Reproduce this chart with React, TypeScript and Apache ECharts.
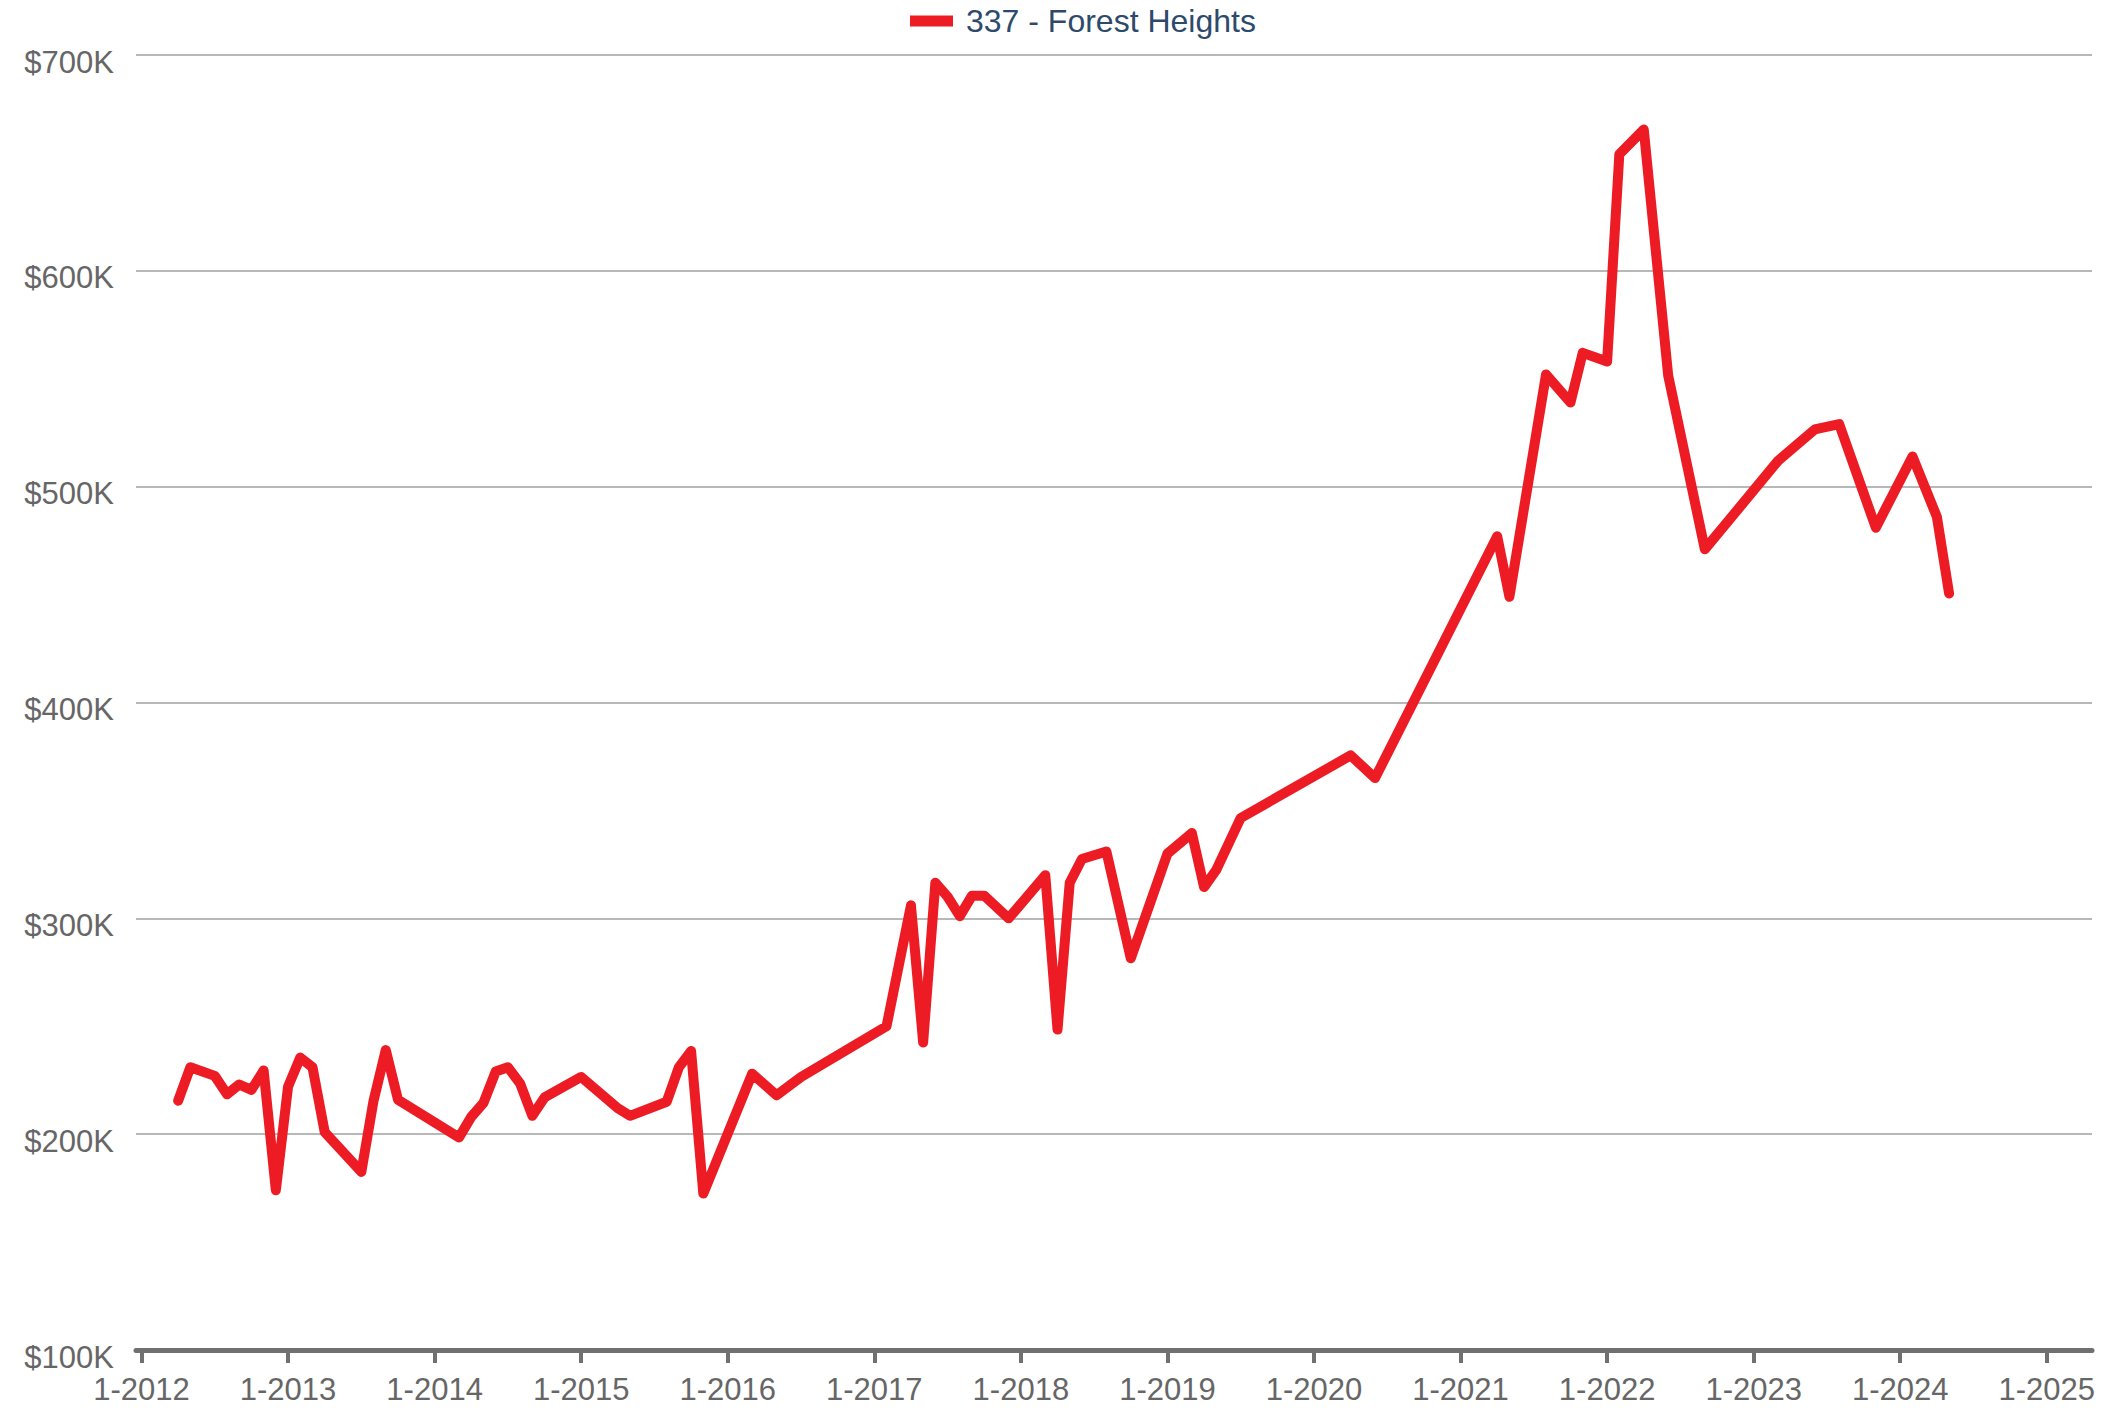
import React, { useEffect, useRef } from "react";
import * as echarts from "echarts";

const seriesName = "337 - Forest Heights";

const months = [
  "2012-04", "2012-05", "2012-07", "2012-08", "2012-09", "2012-10", "2012-11", "2012-12",
  "2013-01", "2013-02", "2013-03", "2013-04", "2013-07", "2013-08", "2013-09", "2013-10",
  "2014-03", "2014-04", "2014-05", "2014-06", "2014-07", "2014-08", "2014-09", "2014-10",
  "2015-01", "2015-04", "2015-05", "2015-08", "2015-09", "2015-10", "2015-11",
  "2016-03", "2016-05", "2016-07",
  "2017-02", "2017-03", "2017-04", "2017-05", "2017-06", "2017-07", "2017-08", "2017-09", "2017-10", "2017-12",
  "2018-03", "2018-04", "2018-05", "2018-06", "2018-08", "2018-10",
  "2019-01", "2019-03", "2019-04", "2019-05", "2019-07",
  "2020-04", "2020-06",
  "2021-04", "2021-05", "2021-08", "2021-10", "2021-11",
  "2022-01", "2022-02", "2022-04", "2022-06", "2022-09",
  "2023-03", "2023-06", "2023-08", "2023-11",
  "2024-02", "2024-04", "2024-05",
];

// median price in $K
const values = [
  215.5, 231, 227, 218.5, 223, 220.5, 229.5, 174,
  222, 235.5, 231, 201, 182.5, 215.5, 239, 216,
  198.5, 208, 214.5, 229, 231, 223.5, 208.5, 217,
  226.5, 212, 208.5, 215, 231, 238.5, 172.5,
  228, 218, 226.5,
  250, 278, 306, 242.5, 316.5, 310, 301, 310.5, 310.5, 300,
  320, 248.5, 316.5, 327.5, 331, 281.5,
  330, 339.5, 314.5, 322.5, 346.5,
  375.5, 365,
  477, 449, 552, 539, 562,
  558, 654, 665.5, 551.5, 471,
  512, 526.5, 529, 481,
  514, 486, 450.5,
];

const xTickLabels = [
  "1-2012", "1-2013", "1-2014", "1-2015", "1-2016", "1-2017", "1-2018",
  "1-2019", "1-2020", "1-2021", "1-2022", "1-2023", "1-2024", "1-2025",
];

const yTickValues = [100, 200, 300, 400, 500, 600, 700];

const BASE_YEAR = 2012;
const monthIndex = (s: string) => {
  const [y, m] = s.split("-").map(Number);
  return (y - BASE_YEAR) * 12 + (m - 1);
};
const tickIndex = (label: string) => {
  const [m, y] = label.split("-").map(Number);
  return (y - BASE_YEAR) * 12 + (m - 1);
};

const FONT = "'Liberation Sans', Arial, Helvetica, sans-serif";

export default function App() {
  const ref = useRef<HTMLDivElement>(null);

  useEffect(() => {
    document.body.style.margin = "0";
    if (!ref.current) return;
    const chart = echarts.init(ref.current, null, { renderer: "svg" });
    const xTicks = xTickLabels.map(tickIndex);
    const data = months.map((m, i) => [monthIndex(m), values[i]]);

    chart.setOption({
      animation: false,
      backgroundColor: "#ffffff",
      textStyle: { fontFamily: FONT },
      legend: {
        show: true,
        left: 905,
        top: 0,
        icon: "rect",
        itemWidth: 43,
        itemHeight: 11,
        data: [seriesName],
        textStyle: {
          fontFamily: FONT,
          fontSize: 32,
          color: "#2e4a6b",
          lineHeight: 26,
          padding: [0, 0, 0, 8],
        },
      },
      grid: {
        left: 136,
        right: 11,
        top: 55,
        bottom: 60,
        containLabel: false,
        outerBoundsMode: "none",
      },
      xAxis: {
        type: "value",
        min: -0.45,
        max: 159.7,
        splitLine: { show: false },
        axisLine: { show: true, lineStyle: { color: "#707070", width: 5 } },
        axisTick: {
          show: true,
          customValues: xTicks,
          length: 13,
          lineStyle: { color: "#707070", width: 4 },
        },
        axisLabel: {
          customValues: xTicks,
          formatter: (v: number) => {
            const i = xTicks.indexOf(Math.round(v));
            return i >= 0 ? xTickLabels[i] : "";
          },
          fontFamily: FONT,
          fontSize: 31,
          color: "#666666",
          margin: 24,
        },
      },
      yAxis: {
        type: "value",
        min: yTickValues[0],
        max: yTickValues[yTickValues.length - 1],
        interval: 100,
        axisLine: { show: false },
        axisTick: { show: false },
        splitLine: { show: true, lineStyle: { color: "#b8b8b8", width: 2 } },
        axisLabel: {
          formatter: (v: number) => `$${v}K`,
          fontFamily: FONT,
          fontSize: 31,
          color: "#666666",
          margin: 22,
          verticalAlign: "top",
          lineHeight: 14,
        },
      },
      series: [
        {
          name: seriesName,
          type: "line",
          data,
          showSymbol: false,
          symbol: "none",
          itemStyle: { color: "#ed1c24" },
          lineStyle: { color: "#ed1c24", width: 10, cap: "round", join: "round" },
          emphasis: { disabled: true },
        },
      ],
    });

    return () => chart.dispose();
  }, []);

  return <div ref={ref} style={{ width: 2103, height: 1410 }} />;
}
